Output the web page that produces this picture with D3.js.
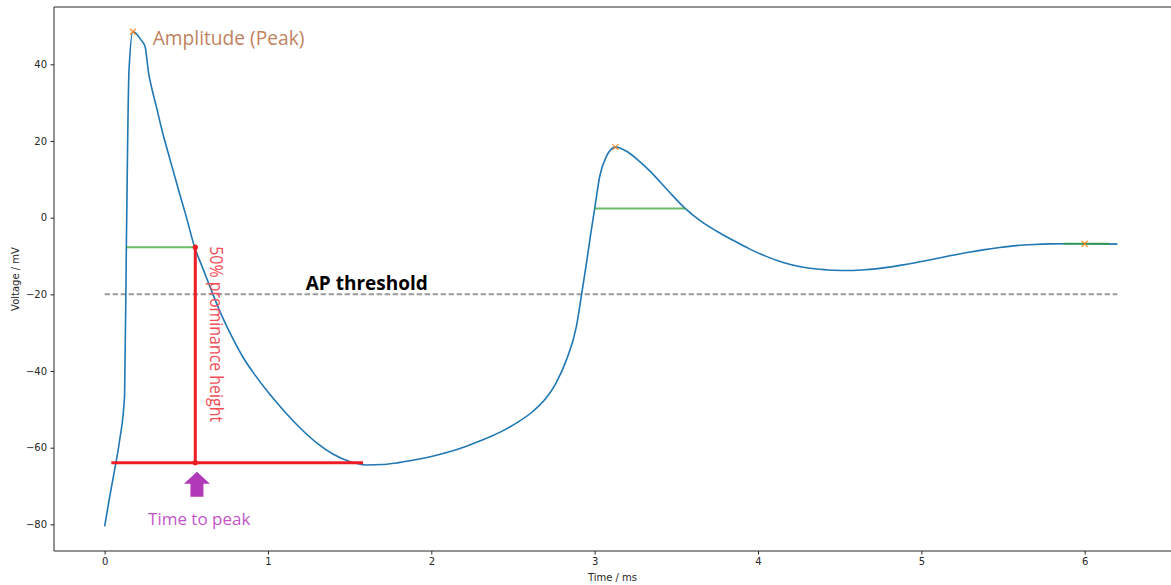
<!DOCTYPE html>
<html>
<head>
<meta charset="utf-8">
<script src="https://cdn.jsdelivr.net/npm/d3@7"></script>
<style>
  body { margin: 0; background: #fff; overflow: hidden; }
  svg { display: block; }
  .tick text { font-family: "DejaVu Sans", sans-serif; font-size: 10px; fill: #262626; }
</style>
</head>
<body>
<svg id="chart" width="1171" height="585"></svg>
<script>
// membrane potential trace (ms, mV)
const time = [0, 0.03, 0.061, 0.092, 0.122, 0.133, 0.149, 0.173, 0.194, 0.22, 0.247, 0.27, 0.29, 0.316,
  0.35, 0.4, 0.45, 0.5, 0.551, 0.6, 0.663, 0.72, 0.786, 0.85, 0.92, 1.0, 1.1, 1.2, 1.3, 1.4,
  1.5, 1.6, 1.7, 1.8, 1.909, 2.0, 2.1, 2.215, 2.3, 2.419, 2.52, 2.623, 2.7, 2.76, 2.827, 2.888,
  2.92, 2.95, 2.975, 3.0, 3.031, 3.072, 3.127, 3.2, 3.276, 3.337, 3.45, 3.552, 3.65, 3.75, 3.847,
  3.95, 4.05, 4.154, 4.26, 4.358, 4.46, 4.562, 4.66, 4.766, 4.87, 4.971, 5.07, 5.174, 5.28, 5.378,
  5.48, 5.583, 5.69, 5.787, 5.9, 6.0, 6.1, 6.2];
const voltage = [-80.5, -73, -65.8, -58, -46.6, -7.5, 38.2, 48.5, 48.0, 46.5, 44.7, 37.5, 33.5, 29.1,
  23.0, 15.2, 7.6, 0.2, -7.7, -13.1, -20.0, -25.8, -31.6, -36.6, -41.0, -45.5, -50.5, -55.0, -58.8, -61.7,
  -63.6, -64.5, -64.4, -63.9, -63.1, -62.3, -61.2, -59.6, -58.2, -56.0, -53.6, -50.5, -47.2, -43.4, -37.1, -28.4,
  -20.0, -11.8, -4.5, 2.3, 10.8, 16.0, 18.4, 17.2, 14.6, 12.2, 7.0, 2.5, -0.9, -3.6, -5.9,
  -8.2, -10.1, -11.7, -12.8, -13.4, -13.7, -13.8, -13.6, -13.1, -12.45, -11.7, -10.85, -9.95, -9.1, -8.4,
  -7.8, -7.3, -7.0, -6.85, -6.8, -6.8, -6.85, -6.9];

// detected peaks
const peakTimes = [0.173, 3.127, 6.0];
const peakVoltages = [48.5, 18.4, -6.8];

// half-prominence widths
const widthLevels = [-7.7, 2.4, -6.8];
const widthStarts = [0.133, 2.996, 5.87];
const widthEnds = [0.551, 3.552, 6.15];

const thresholdV = -20;
const xTicks = [0, 1, 2, 3, 4, 5, 6];
const yTicks = [-80, -60, -40, -20, 0, 20, 40];

// hand annotations
const promTime = 0.555;
const promBase = -63.9;
const promTop = -7.7;
const baseStart = 0.041;
const baseEnd = 1.582;

const svg = d3.select("#chart");
const padL = 54, padT = 7, padB = 551;

const x = d3.scaleLinear().domain([-0.31, 6.51]).range([padL, 1168]);
const y = d3.scaleLinear().domain([-86.95, 54.95]).range([padB, padT]);

// frame (right edge falls outside the picture)
svg.append("path")
    .attr("d", `M1180,${padT}H${padL}V${padB}H1180`)
    .attr("fill", "none")
    .attr("stroke", "#262626")
    .attr("stroke-width", 1);

const fmt = d => d < 0 ? "\u2212" + Math.abs(d) : String(d);

svg.append("g")
    .attr("transform", `translate(0,${padB})`)
    .call(d3.axisBottom(x).tickValues(xTicks).tickFormat(fmt).tickSize(3.5).tickPadding(3.5))
    .call(g => g.select(".domain").remove())
    .call(g => g.selectAll("line").attr("stroke", "#262626"));

svg.append("g")
    .attr("transform", `translate(${padL},0)`)
    .call(d3.axisLeft(y).tickValues(yTicks).tickFormat(fmt).tickSize(3.5).tickPadding(3.5))
    .call(g => g.select(".domain").remove())
    .call(g => g.selectAll("line").attr("stroke", "#262626"));

svg.append("text")
    .attr("x", (padL + 1171) / 2).attr("y", 581)
    .attr("text-anchor", "middle")
    .attr("font-family", "DejaVu Sans").attr("font-size", 10).attr("fill", "#262626")
    .text("Time / ms");

svg.append("text")
    .attr("transform", `translate(19,${(padT + padB) / 2}) rotate(-90)`)
    .attr("text-anchor", "middle")
    .attr("font-family", "DejaVu Sans").attr("font-size", 10).attr("fill", "#262626")
    .text("Voltage / mV");

// threshold
svg.append("line")
    .attr("x1", x(0)).attr("x2", x(6.2))
    .attr("y1", y(thresholdV)).attr("y2", y(thresholdV))
    .attr("stroke", "#9a9a9a").attr("stroke-width", 2)
    .attr("stroke-dasharray", "5.5,2.5");

// trace
const trace = time.map((t, i) => [t, voltage[i]]);
svg.append("path")
    .datum(trace)
    .attr("fill", "none")
    .attr("stroke", "#1f77b4")
    .attr("stroke-width", 1.6)
    .attr("d", d3.line().x(d => x(d[0])).y(d => y(d[1])).curve(d3.curveMonotoneX));

// widths
svg.append("g").selectAll("line")
    .data(widthLevels)
    .enter().append("line")
    .attr("x1", (d, i) => x(widthStarts[i]))
    .attr("x2", (d, i) => x(widthEnds[i]))
    .attr("y1", d => y(d)).attr("y2", d => y(d))
    .attr("stroke", "#2ca02c").attr("stroke-opacity", 0.7).attr("stroke-width", 2);

// peak markers
svg.append("g").selectAll("path")
    .data(peakTimes)
    .enter().append("path")
    .attr("transform", (d, i) => `translate(${x(d)},${y(peakVoltages[i])})`)
    .attr("d", "M-3,-3L3,3M-3,3L3,-3")
    .attr("stroke", "#ff7f0e").attr("stroke-width", 1.2).attr("stroke-opacity", 0.85);

// prominence annotation
const red = "#ee1c24";
svg.append("line")
    .attr("x1", x(baseStart)).attr("x2", x(baseEnd))
    .attr("y1", y(promBase)).attr("y2", y(promBase))
    .attr("stroke", red).attr("stroke-width", 3);
svg.append("line")
    .attr("x1", x(promTime)).attr("x2", x(promTime))
    .attr("y1", y(promTop)).attr("y2", y(promBase))
    .attr("stroke", red).attr("stroke-width", 3);
svg.append("g").selectAll("circle")
    .data([promTop, promBase])
    .enter().append("circle")
    .attr("cx", x(promTime)).attr("cy", d => y(d)).attr("r", 2.6)
    .attr("fill", red);

svg.append("text")
    .attr("transform", `translate(${x(promTime) + 15},${y(promTop) - 1}) rotate(90)`)
    .attr("font-family", "Open Sans").attr("font-size", 17.5).attr("fill", "#f24e58")
    .attr("textLength", 176).attr("lengthAdjust", "spacingAndGlyphs")
    .text("50% prominance height");

// arrow under the peak time
const tipX = x(0.565), tipY = y(-66.3);
svg.append("path")
    .attr("d", `M${tipX},${tipY}l13,12h-6.5v13h-13v-13h-6.5z`)
    .attr("fill", "#b23ab8");

svg.append("text")
    .attr("x", x(0.579)).attr("y", y(-80.1))
    .attr("text-anchor", "middle")
    .attr("font-family", "Open Sans").attr("font-size", 17).attr("fill", "#c455c8")
    .text("Time to peak");

svg.append("text")
    .attr("x", x(0.294)).attr("y", y(45))
    .attr("font-family", "Open Sans").attr("font-size", 19.2).attr("fill", "#c08260")
    .text("Amplitude (Peak)");

svg.append("text")
    .attr("x", x(1.231)).attr("y", y(-18.8))
    .attr("font-family", "Open Sans").attr("font-weight", "bold").attr("font-size", 19).attr("fill", "#000")
    .text("AP threshold");
</script>
</body>
</html>
